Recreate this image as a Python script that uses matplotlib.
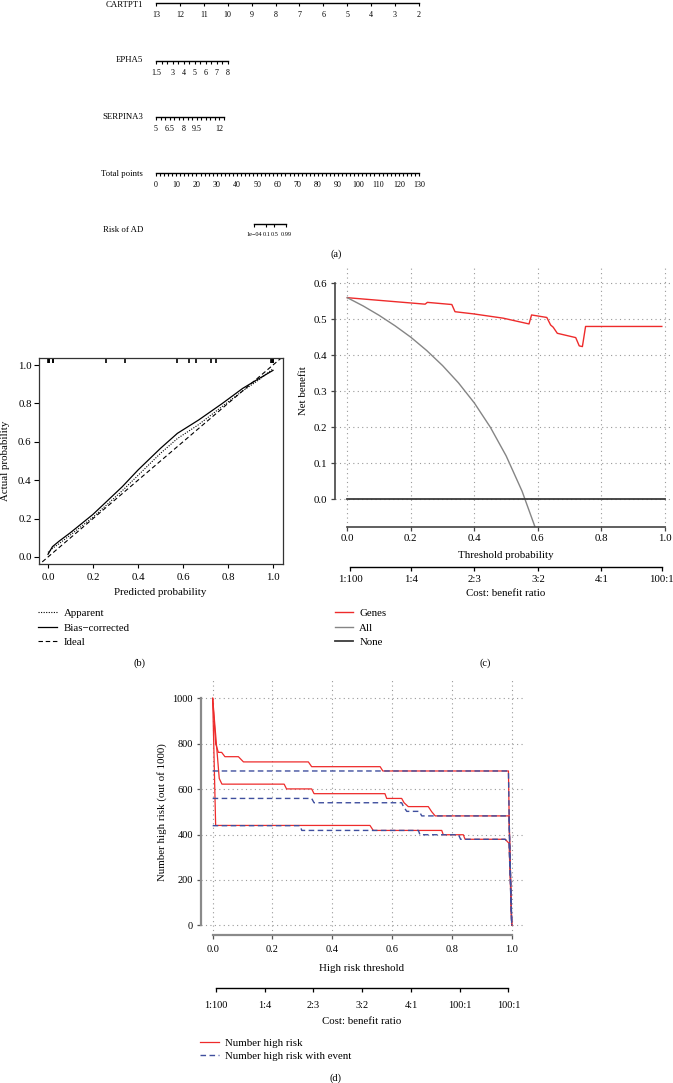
import numpy as np
import matplotlib
matplotlib.use('Agg')
import matplotlib.pyplot as plt
from matplotlib.ticker import FormatStrFormatter

plt.rcParams['font.family'] = ['Liberation Serif', 'DejaVu Serif']

W, H = 673, 1083

# ---------------- (a) nomogram ----------------
cartpt1_ticks = [13, 12, 11, 10, 9, 8, 7, 6, 5, 4, 3, 2]
epha5_ticks = [1.5, 2, 2.5, 3, 3.5, 4, 4.5, 5, 5.5, 6, 6.5, 7, 7.5, 8]
epha5_labels = [1.5, 3, 4, 5, 6, 7, 8]
serpina3_ticks = [5, 5.5, 6, 6.5, 7, 7.5, 8, 8.5, 9, 9.5, 10, 10.5, 11, 11.5, 12, 12.5]
serpina3_labels = [5, 6.5, 8, 9.5, 12]
points_minor = list(range(0, 131, 2))
points_labels = list(range(0, 131, 10))
risk_labels = ['1e\u221204', '0.1', '0.5', '0.99']
risk_points = [48.4, 54.5, 58.5, 64.4]   # total points matching each risk

# ---------------- (b) calibration ----------------
cal_pred = [0.0, 0.02, 0.05, 0.1, 0.2, 0.33, 0.4, 0.5, 0.575, 0.67, 0.775, 0.865, 0.94, 1.0]
bias_corrected = [0.014, 0.054, 0.083, 0.127, 0.222, 0.366, 0.453, 0.566, 0.644, 0.714, 0.80, 0.878, 0.931, 0.972]
apparent = [0.024, 0.045, 0.07, 0.115, 0.207, 0.345, 0.425, 0.54, 0.617, 0.69, 0.785, 0.865, 0.925, 0.98]
ideal = [-0.05, 1.05]
rug_pred = [0.0, 0.003, 0.006, 0.02, 0.024, 0.256, 0.342, 0.575, 0.627, 0.659, 0.723, 0.745,
            0.99, 0.994, 0.998, 1.0]

# ---------------- (c) decision curve ----------------
genes_x = [0, 0.245, 0.252, 0.329, 0.339, 0.397, 0.491, 0.572, 0.58, 0.628, 0.64, 0.648,
           0.661, 0.719, 0.73, 0.74, 0.75, 0.99]
genes_y = [0.56, 0.542, 0.547, 0.541, 0.521, 0.515, 0.503, 0.487, 0.512, 0.505, 0.484, 0.478,
           0.461, 0.449, 0.426, 0.424, 0.48, 0.48]
all_x = [0, 0.05, 0.1, 0.15, 0.2, 0.25, 0.3, 0.35, 0.4, 0.45, 0.5, 0.55, 0.6]
all_y = [0.56, 0.537, 0.511, 0.482, 0.45, 0.413, 0.371, 0.323, 0.267, 0.2, 0.12, 0.022, -0.1]
none_x = [0, 1]
none_y = [0, 0]
cb_c_pos = [0.01, 0.2, 0.4, 0.6, 0.8, 0.99]
cb_c_labels = ['1:100', '1:4', '2:3', '3:2', '4:1', '100:1']

# ---------------- (d) clinical impact ----------------
nhr_up_x = [0, 0.01, 0.019, 0.03, 0.041, 0.086, 0.103, 0.32, 0.331, 0.56, 0.569, 0.989, 0.992, 1.0]
nhr_up_y = [1000, 801, 762, 762, 743, 743, 720, 720, 699, 699, 680, 680, 420, 0]
nhr_x = [0, 0.022, 0.031, 0.239, 0.247, 0.331, 0.339, 0.576, 0.582, 0.632, 0.64, 0.654,
         0.721, 0.732, 0.744, 0.991, 1.0]
nhr_y = [1000, 647, 622, 622, 601, 601, 580, 580, 559, 559, 540, 523, 523, 501, 482, 482, 0]
nhr_lo_x = [0, 0.01, 0.526, 0.537, 0.766, 0.771, 0.838, 0.844, 0.978, 0.991, 1.0]
nhr_lo_y = [1000, 440, 440, 418, 418, 399, 399, 379, 379, 361, 0]
ev_up_x = [0, 0.989, 0.992, 1.0]
ev_up_y = [680, 680, 420, 0]
ev_x = [0, 0.331, 0.339, 0.632, 0.638, 0.649, 0.691, 0.699, 0.991, 1.0]
ev_y = [559, 559, 540, 540, 523, 502, 502, 482, 482, 0]
ev_lo_x = [0, 0.292, 0.298, 0.688, 0.693, 0.822, 0.829, 0.978, 0.991, 1.0]
ev_lo_y = [439, 439, 418, 418, 399, 399, 379, 379, 361, 0]
cb_d_pos = [0.011, 0.174, 0.337, 0.5, 0.663, 0.826, 0.989]
cb_d_labels = ['1:100', '1:4', '2:3', '3:2', '4:1', '100:1', '100:1']

RED = '#ee2b2b'
BLUE = '#3f4f9e'
GRID = dict(color='#9a9a9a', linestyle=(0, (1, 3)), linewidth=0.8)

fig = plt.figure(figsize=(W / 100, H / 100), dpi=100)


def px_axes(x0, y0, x1, y1):
    return fig.add_axes([x0 / W, 1 - y1 / H, (x1 - x0) / W, (y1 - y0) / H])


def ftext(x, y, s, **kw):
    return fig.text(x / W, 1 - y / H, s, **kw)


def only_bottom(ax):
    ax.patch.set_visible(False)
    for s in ('left', 'right', 'top'):
        ax.spines[s].set_visible(False)
    ax.set_yticks([])


# ---- nomogram rows ----
def nomo_row(y, x0, x1, lim, major, labels, minor=None, fs=5.8, bounds=None):
    ax = px_axes(x0, y - 1, x1, y)
    only_bottom(ax)
    ax.set_xlim(*lim)
    ax.set_xticks(major)
    ax.set_xticklabels(labels, fontsize=fs)
    if minor is not None:
        ax.set_xticks(minor, minor=True)
    if bounds is not None:
        ax.spines['bottom'].set_bounds(*bounds)
    ax.spines['bottom'].set_linewidth(1.0)
    ax.tick_params(axis='x', which='both', length=2.4, width=0.8, pad=3.3)
    return ax


nomo_row(3, 156, 419, (13, 2), cartpt1_ticks, [str(v) for v in cartpt1_ticks])
nomo_row(61, 156, 228, (1.5, 8), epha5_labels, ['%g' % v for v in epha5_labels], epha5_ticks)
nomo_row(117, 156, 224, (5, 12.5), serpina3_labels, ['%g' % v for v in serpina3_labels], serpina3_ticks)
nomo_row(173.3, 156, 419, (0, 130), points_labels, [str(v) for v in points_labels], points_minor)
nomo_row(224, 156, 419, (0, 130), risk_points, risk_labels, fs=4.5,
         bounds=(risk_points[0], risk_points[-1]))

for name, yy in [('CARTPT1', 4.8), ('EPHA5', 60.5), ('SERPINA3', 117), ('Total points', 173.5),
                 ('Risk of AD', 230)]:
    ftext(143, yy, name, ha='right', va='center', fontsize=6.3)
ftext(336, 254, '(a)', ha='center', va='center', fontsize=7.5)

# ---- (b) calibration ----
axb = px_axes(39, 358, 283, 564)
axb.set_xlim(-0.04, 1.0444)
axb.set_ylim(-0.0365, 1.0365)
axb.plot(cal_pred, apparent, color='k', lw=0.8, ls=(0, (1, 1.3)), label='Apparent')
axb.plot(cal_pred, bias_corrected, color='k', lw=0.9, label='Bias\u2212corrected')
axb.plot(ideal, ideal, color='k', lw=0.8, ls=(0, (4, 2.5)), label='Ideal')
axb.vlines(rug_pred, 0.975, 1.0, transform=axb.get_xaxis_transform(), color='k', lw=1.2)
axb.set_xticks([0, 0.2, 0.4, 0.6, 0.8, 1.0])
axb.set_yticks([0, 0.2, 0.4, 0.6, 0.8, 1.0])
axb.xaxis.set_major_formatter(FormatStrFormatter('%.1f'))
axb.yaxis.set_major_formatter(FormatStrFormatter('%.1f'))
axb.tick_params(axis='x', length=3, width=0.8, pad=3.5, labelsize=7.8)
axb.tick_params(axis='y', length=3.6, width=0.8, pad=1.7, labelsize=7.8)
for s in axb.spines.values():
    s.set_linewidth(0.9)
    s.set_color('#333333')
ftext(160.5, 592.7, 'Predicted probability', ha='center', va='center', fontsize=7.8)
ftext(6, 461, 'Actual probability', ha='center', va='center', rotation=90, fontsize=7.8)
axb.legend(loc='upper left', bbox_to_anchor=(38 / W, 1 - 608.5 / H), bbox_transform=fig.transFigure,
           frameon=False, fontsize=7.8, borderpad=0, borderaxespad=0, handlelength=1.75,
           handletextpad=0.6, labelspacing=0.45)
ftext(140, 663, '(b)', ha='center', va='center', fontsize=7.5)

# ---- (c) decision curve ----
axc = px_axes(334.6, 268, 677.7, 526.7)
axc.set_xlim(-0.04, 1.04)
axc.set_ylim(-0.077, 0.6426)
axc.set_xticks([0, 0.2, 0.4, 0.6, 0.8, 1.0])
axc.set_yticks([0, 0.1, 0.2, 0.3, 0.4, 0.5, 0.6])
axc.xaxis.set_major_formatter(FormatStrFormatter('%.1f'))
axc.yaxis.set_major_formatter(FormatStrFormatter('%.1f'))
axc.grid(True, **GRID)
axc.set_axisbelow(True)
axc.plot(genes_x, genes_y, color=RED, lw=1.0, label='Genes')
axc.plot(all_x, all_y, color='#858585', lw=1.0, label='All')
axc.plot(none_x, none_y, color='#3a3a3a', lw=1.3, label='None')
for s in ('top', 'right'):
    axc.spines[s].set_visible(False)
axc.spines['left'].set_bounds(0, 0.6)
axc.spines['bottom'].set_bounds(0, 1)
for s in ('left', 'bottom'):
    axc.spines[s].set_linewidth(1.2)
    axc.spines[s].set_color('#444444')
axc.tick_params(axis='both', length=3, width=0.9, color='#444444', labelsize=7.8)
axc.tick_params(axis='x', pad=2.3)
axc.tick_params(axis='y', pad=2.2)
ftext(506, 555.7, 'Threshold probability', ha='center', va='center', fontsize=7.8)
ftext(304, 391, 'Net benefit', ha='center', va='center', rotation=90, fontsize=7.8)

axc2 = px_axes(334.6, 566.3, 677.7, 567.3)
only_bottom(axc2)
axc2.set_xlim(-0.04, 1.04)
axc2.set_xticks(cb_c_pos)
axc2.set_xticklabels(cb_c_labels)
axc2.spines['bottom'].set_bounds(cb_c_pos[0], cb_c_pos[-1])
axc2.spines['bottom'].set_linewidth(1.0)
axc2.tick_params(axis='x', length=3, width=0.9, pad=2.5, labelsize=7.8)
ftext(506, 594, 'Cost: benefit ratio', ha='center', va='center', fontsize=7.8)
axc.legend(loc='upper left', bbox_to_anchor=(335 / W, 1 - 608.5 / H), bbox_transform=fig.transFigure,
           frameon=False, fontsize=7.8, borderpad=0, borderaxespad=0, handlelength=1.65,
           handletextpad=0.6, labelspacing=0.45)
ftext(485, 663, '(c)', ha='center', va='center', fontsize=7.5)

# ---- (d) clinical impact ----
axd = px_axes(200.7, 677.5, 523.7, 934.8)
axd.set_xlim(-0.04, 1.04)
axd.set_ylim(-42, 1092)
axd.set_xticks([0, 0.2, 0.4, 0.6, 0.8, 1.0])
axd.set_yticks([0, 200, 400, 600, 800, 1000])
axd.xaxis.set_major_formatter(FormatStrFormatter('%.1f'))
axd.grid(True, **GRID)
axd.set_axisbelow(True)
axd.plot(nhr_up_x, nhr_up_y, color=RED, lw=0.9)
axd.plot(nhr_lo_x, nhr_lo_y, color=RED, lw=0.9)
axd.plot(nhr_x, nhr_y, color=RED, lw=0.9, label='Number high risk')
axd.plot(ev_up_x, ev_up_y, color=BLUE, lw=1.0, ls=(0, (4, 2.5)))
axd.plot(ev_lo_x, ev_lo_y, color=BLUE, lw=1.0, ls=(0, (4, 2.5)))
axd.plot(ev_x, ev_y, color=BLUE, lw=1.0, ls=(0, (4, 2.5)), label='Number high risk with event')
for s in ('top', 'right'):
    axd.spines[s].set_visible(False)
axd.spines['left'].set_bounds(0, 1000)
axd.spines['bottom'].set_bounds(0, 1)
for s in ('left', 'bottom'):
    axd.spines[s].set_linewidth(1.6)
    axd.spines[s].set_color('#8a8a8a')
axd.tick_params(axis='both', length=3, width=0.9, color='#555555', labelsize=7.5)
axd.tick_params(axis='x', pad=4.5)
axd.tick_params(axis='y', pad=2.5)
ftext(362, 968.3, 'High risk threshold', ha='center', va='center', fontsize=7.8)
ftext(161.7, 811.8, 'Number high risk (out of 1000)', ha='center', va='center', rotation=90,
      fontsize=7.8)

axd2 = px_axes(200.7, 987.3, 523.7, 988.3)
only_bottom(axd2)
axd2.set_xlim(-0.04, 1.04)
axd2.set_xticks(cb_d_pos)
axd2.set_xticklabels(cb_d_labels)
axd2.spines['bottom'].set_bounds(cb_d_pos[0], cb_d_pos[-1])
axd2.spines['bottom'].set_linewidth(1.0)
axd2.tick_params(axis='x', length=3, width=0.9, pad=6, labelsize=7.5)
ftext(362, 1021.7, 'Cost: benefit ratio', ha='center', va='center', fontsize=7.8)
axd.legend(loc='upper left', bbox_to_anchor=(200 / W, 1 - 1038 / H), bbox_transform=fig.transFigure,
           frameon=False, fontsize=7.8, borderpad=0, borderaxespad=0, handlelength=1.75,
           handletextpad=0.6, labelspacing=0.36)
ftext(336, 1078, '(d)', ha='center', va='center', fontsize=7.5)

fig.savefig('out.png', dpi=100)
